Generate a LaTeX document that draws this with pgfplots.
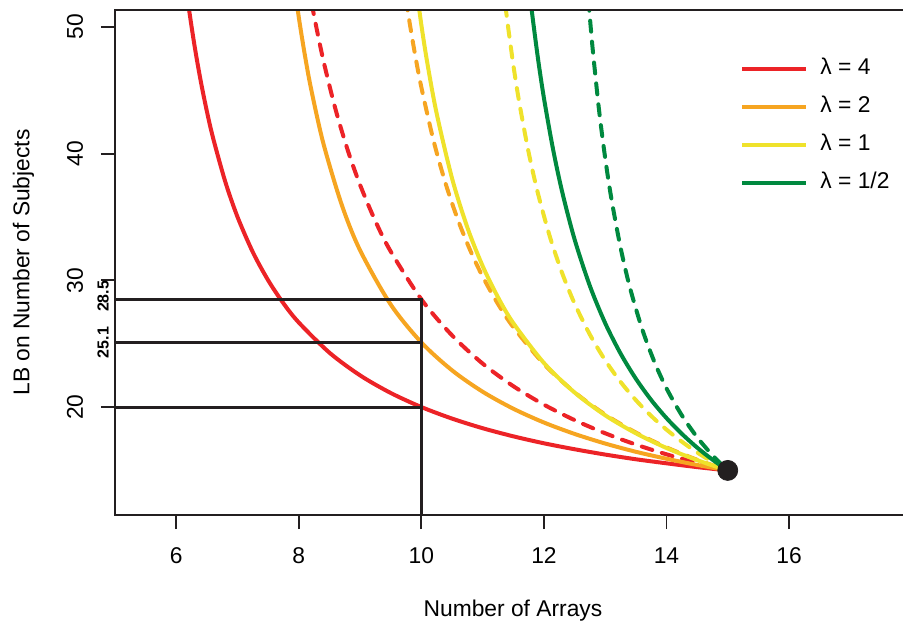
\documentclass[border=0pt]{standalone}
\usepackage{fontspec}
\setmainfont{Liberation Sans}
\usepackage{pgfplots}
\pgfplotsset{compat=1.18}

\definecolor{cred}{HTML}{EC2327}
\definecolor{corange}{HTML}{F6A521}
\definecolor{cyellow}{HTML}{EFE22B}
\definecolor{cgreen}{HTML}{00893F}
\definecolor{cdark}{HTML}{231F20}

\begin{document}
\fontsize{11.4}{13.7}\selectfont
\begin{tikzpicture}
\begin{axis}[
    name=ax,
    scale only axis,
    width=394pt, height=252.5pt,
    xmin=5, xmax=17.86,
    ymin=11.48, ymax=51.34,
    axis line style={draw=none},
    xtick={6,8,10,12,14,16},
    ytick={20,30,40,50},
    tick align=outside,
    tick pos=left,
    major tick length=7pt,
    tick style={cdark, line width=0.9pt},
    /pgf/number format/assume math mode=true,
    tick label style={font=\fontsize{11.4}{13.7}\selectfont},
    xticklabel style={anchor=base, yshift=-17pt},
    yticklabel style={rotate=90, anchor=base},
    yticklabel shift=9pt,
    xlabel={Number of Arrays},
    ylabel={LB on Number of Subjects},
    every axis x label/.style={at={(axis description cs:0.505,-0.19)}, anchor=center},
    every axis y label/.style={at={(axis description cs:-0.116,0.5)}, rotate=90, anchor=center},
    legend style={draw=none, fill=none, at={(rel axis cs:0.7855,0.914)}, anchor=north west,
        nodes={text height=8.5pt, text depth=2.5pt, inner sep=0pt},
        row sep=8pt, column sep=6pt, font=\fontsize{11.4}{13.7}\selectfont},
    legend cell align=left,
    legend image code/.code={\draw[#1] (0pt,0pt) -- (32pt,0pt);},
]

% dashed curves
\addplot[cred, line width=2pt, smooth, dash pattern=on 5.5pt off 5pt, line cap=round, forget plot] coordinates {
 (8.15,53.51)(8.25,50.85)(8.4,47.37)(8.6,43.48)(8.8,40.25)(9,37.53)(9.25,34.67)(9.5,32.28)
 (10,28.50)(10.5,25.66)(11,23.43)(11.5,21.65)(12,20.19)(12.5,18.97)(13,17.93)(13.5,17.04)
 (14,16.27)(14.5,15.60)(15,15.00)
};
\addplot[corange, line width=2pt, smooth, dash pattern=on 5.5pt off 5pt, line cap=round, forget plot] coordinates {
 (9.7,53.81)(9.8,50.58)(9.9,47.74)(10,45.23)(10.2,41.00)(10.4,37.57)(10.6,34.73)(10.8,32.34)
 (11,30.30)(11.25,28.14)(11.5,26.31)(12,23.39)(12.5,21.17)(13,19.41)(13.5,17.99)(14,16.82)
 (14.5,15.84)(15,15.00)
};
\addplot[cyellow, line width=2pt, smooth, dash pattern=on 5.5pt off 5pt, line cap=round, forget plot] coordinates {
 (11.33,53.39)(11.4,50.56)(11.5,47.02)(11.6,43.97)(11.75,40.11)(11.9,36.91)(12.1,33.40)
 (12.3,30.54)(12.5,28.17)(12.75,25.72)(13,23.69)(13.25,21.99)(13.5,20.55)(13.75,19.30)
 (14,18.22)(14.25,17.27)(14.5,16.42)(14.75,15.67)(15,15.00)
};
\addplot[cgreen, line width=2pt, smooth, dash pattern=on 5.5pt off 5pt, line cap=round, forget plot] coordinates {
 (12.7,53.80)(12.75,50.75)(12.8,48.04)(12.9,43.42)(13,39.64)(13.1,36.47)(13.25,32.60)
 (13.4,29.49)(13.6,26.20)(13.8,23.60)(14,21.48)(14.25,19.35)(14.5,17.62)(14.75,16.20)(15,15.00)
};

% solid curves
\addplot[cred, line width=2pt, smooth] coordinates {
 (6.1,55.45)(6.2,51.67)(6.3,48.46)(6.4,45.71)(6.5,43.33)(6.6,41.25)(6.8,37.78)(7,35.00)
 (7.25,32.22)(7.5,30.00)(7.75,28.18)(8,26.67)(8.5,24.29)(9,22.50)(9.5,21.11)(10,20.00)
 (10.5,19.09)(11,18.33)(11.5,17.69)(12,17.14)(12.5,16.67)(13,16.25)(13.5,15.88)(14,15.56)
 (14.5,15.26)(15,15.00)
};
\addlegendentry{λ = 4}
\addplot[corange, line width=2pt, smooth] coordinates {
 (7.9,54.25)(8,50.75)(8.1,47.74)(8.2,45.12)(8.4,40.82)(8.7,35.97)(9,32.37)(9.5,28.09)(10,25.10)
 (10.5,22.90)(11,21.21)(11.5,19.87)(12,18.78)(12.5,17.88)(13,17.12)(13.5,16.47)(14,15.92)
 (14.5,15.43)(15,15.00)
};
\addlegendentry{λ = 2}
\addplot[cyellow, line width=2pt, smooth] coordinates {
 (9.9,53.73)(10,50.15)(10.1,47.07)(10.25,43.16)(10.5,38.06)(10.75,34.18)(11,31.13)
 (11.25,28.67)(11.5,26.63)(12,23.48)(12.5,21.15)(13,19.35)(13.5,17.93)(14,16.77)
 (14.5,15.81)(15,15.00)
};
\addlegendentry{λ = 1}
\addplot[cgreen, line width=2pt, smooth] coordinates {
 (11.75,53.43)(11.8,51.34)(11.9,47.61)(12,44.39)(12.15,40.32)(12.3,36.94)(12.5,33.24)
 (12.75,29.56)(13,26.62)(13.25,24.23)(13.5,22.24)(13.75,20.56)(14,19.13)(14.25,17.89)
 (14.5,16.80)(14.75,15.85)(15,15.00)
};
\addlegendentry{λ = 1/2}

% reference lines
\addplot[cdark, line width=1.5pt, forget plot] coordinates {(5,20)(10,20)};
\addplot[cdark, line width=1.5pt, forget plot] coordinates {(5,25.1)(10,25.1)};
\addplot[cdark, line width=1.6pt, forget plot] coordinates {(5,28.5)(10,28.5)(10,11.48)};

% end point
\addplot[only marks, mark=*, mark size=5pt, cdark, forget plot] coordinates {(15,15)};

\coordinate (l285) at (axis cs:5,28.5);
\coordinate (l251) at (axis cs:5,25.1);
\end{axis}

\draw[cdark, line width=1.3pt] (ax.north east) -- (ax.north west) -- (ax.south west) -- (ax.south east);
\node[rotate=90, anchor=base, inner sep=0pt, font=\bfseries\fontsize{8}{9.6}\selectfont] at ([xshift=-3.2pt, yshift=1.5pt]l285) {28.5};
\node[rotate=90, anchor=base, inner sep=0pt, font=\bfseries\fontsize{8}{9.6}\selectfont] at ([xshift=-3.2pt]l251) {25.1};

\pgfresetboundingbox
\path[use as bounding box] ([xshift=-57.5pt, yshift=-55.5pt]ax.south west) rectangle ([yshift=5pt]ax.north east);
\end{tikzpicture}
\end{document}
